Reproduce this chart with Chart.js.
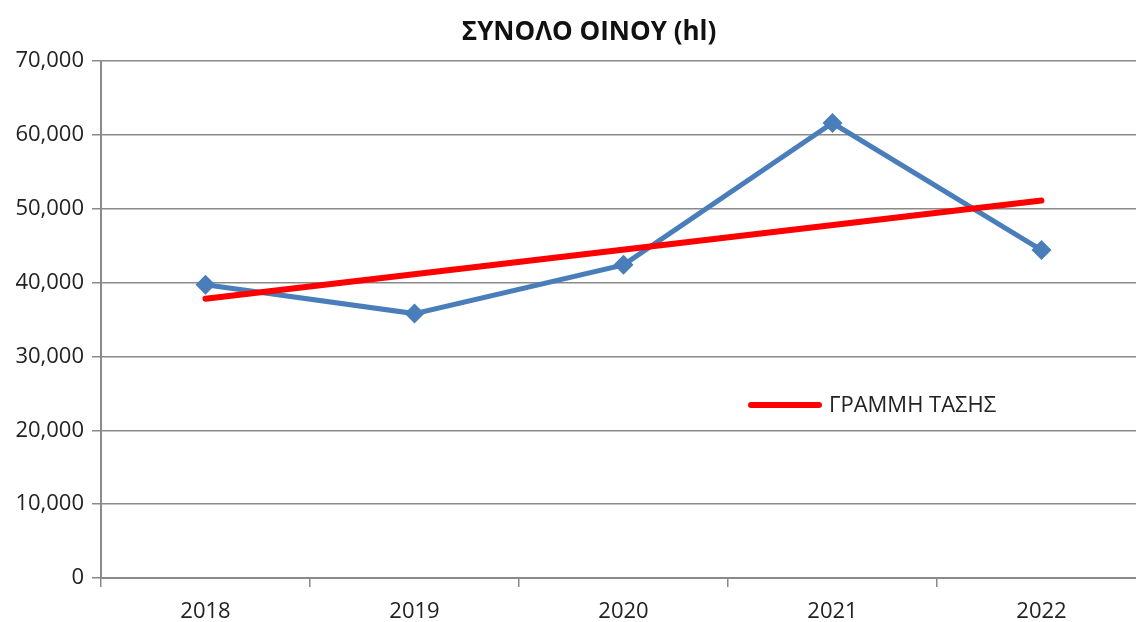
<!DOCTYPE html>
<html>
<head>
<meta charset="utf-8">
<script src="https://cdn.jsdelivr.net/npm/chart.js@4.4.1/dist/chart.umd.min.js"></script>
<style>
html,body{margin:0;padding:0;background:#fff;overflow:hidden;}
#wrap{width:1136px;height:622px;overflow:hidden;position:relative;}
canvas{position:absolute;left:0;top:0;}
</style>
</head>
<body>
<div id="wrap"><canvas id="c" width="1156" height="622"></canvas></div>
<script>
const chartTitle = 'ΣΥΝΟΛΟ ΟΙΝΟΥ (hl)';
const categories = ['2018', '2019', '2020', '2021', '2022'];
const wineTotal = [39700, 35800, 42400, 61600, 44400];
const trendLabel = 'ΓΡΑΜΜΗ ΤΑΣΗΣ';
const trendValues = [37800, null, null, null, 51100];
const yTicks = [0, 10000, 20000, 30000, 40000, 50000, 60000, 70000];

const FONT = '"Open Sans", "Noto Sans", sans-serif';

const titleAndLegend = {
  id: 'titleAndLegend',
  afterDraw(chart) {
    const ctx = chart.ctx;
    const a = chart.chartArea;
    ctx.save();
    // title
    ctx.fillStyle = '#111';
    ctx.font = 'bold 26px ' + FONT;
    ctx.textAlign = 'center';
    ctx.textBaseline = 'middle';
    ctx.fillText(chartTitle, 589, 33);
    // legend for trend line
    const ds = chart.data.datasets[1];
    const x0 = a.left + 650, y0 = a.top + 344;
    ctx.strokeStyle = ds.borderColor;
    ctx.lineWidth = 6;
    ctx.lineCap = 'round';
    ctx.beginPath();
    ctx.moveTo(x0, y0);
    ctx.lineTo(x0 + 68, y0);
    ctx.stroke();
    ctx.fillStyle = '#222';
    ctx.font = '22px ' + FONT;
    ctx.textAlign = 'left';
    ctx.fillText(ds.label, x0 + 78, y0 + 1);
    ctx.restore();
  }
};

new Chart(document.getElementById('c'), {
  type: 'line',
  data: {
    labels: categories,
    datasets: [
      {
        label: 'ΣΥΝΟΛΟ ΟΙΝΟΥ',
        data: wineTotal,
        borderColor: '#4A7EBB',
        backgroundColor: '#4A7EBB',
        borderWidth: 5,
        pointStyle: 'rectRot',
        pointRadius: 10,
        pointBorderWidth: 0,
        tension: 0,
        order: 2
      },
      {
        label: trendLabel,
        data: trendValues,
        borderColor: '#FF0000',
        backgroundColor: '#FF0000',
        borderWidth: 6,
        borderCapStyle: 'round',
        pointRadius: 0,
        spanGaps: true,
        tension: 0,
        order: 1
      }
    ]
  },
  options: {
    responsive: false,
    animation: false,
    layout: { padding: { left: 0, right: 0, top: 61, bottom: 0 } },
    plugins: {
      legend: { display: false },
      tooltip: { enabled: false },
      title: { display: false }
    },
    scales: {
      x: {
        offset: true,
        grid: {
          offset: true,
          drawOnChartArea: false,
          drawTicks: true,
          tickLength: 9,
          color: '#8a8a8a',
          lineWidth: 1.5
        },
        border: { display: true, color: '#8a8a8a', width: 2 },
        ticks: {
          color: '#222',
          font: { family: FONT, size: 22 },
          padding: 12,
          maxRotation: 0
        },
        afterFit(s) { s.height = 44; }
      },
      y: {
        min: 0,
        max: 70000,
        afterBuildTicks(s) { s.ticks = yTicks.map(v => ({ value: v })); },
        grid: {
          color: '#8a8a8a',
          lineWidth: 1.5,
          tickLength: 9
        },
        border: { display: true, color: '#8a8a8a', width: 2 },
        ticks: {
          color: '#222',
          font: { family: FONT, size: 22 },
          padding: 8,
          callback: v => v.toLocaleString('en-US')
        },
        afterFit(s) { s.width = 101; }
      }
    }
  },
  plugins: [titleAndLegend]
});
</script>
</body>
</html>
